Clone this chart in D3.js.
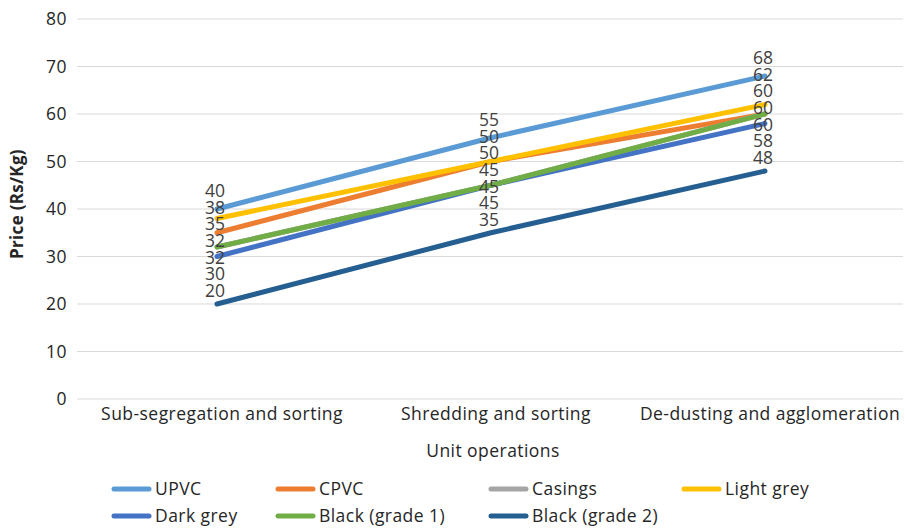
<!DOCTYPE html>
<html>
<head>
<meta charset="utf-8">
<script src="https://cdn.jsdelivr.net/npm/d3@7"></script>
<style>
  body { margin: 0; background: #fff; }
  text { font-family: "Open Sans", "Noto Sans", sans-serif; }
</style>
</head>
<body>
<svg id="chart" width="905" height="528"></svg>
<script>
// Unit operations along the x axis
const categories = ["Sub-segregation and sorting", "Shredding and sorting", "De-dusting and agglomeration"];

// Price (Rs/Kg) per plastic type at each stage
const upvc       = [40, 55, 68];
const cpvc       = [35, 50, 60];
const casings    = [32, 45, 60];
const lightGrey  = [38, 50, 62];
const darkGrey   = [30, 45, 58];
const black1     = [32, 45, 60];
const black2     = [20, 35, 48];

const seriesNames = ["UPVC", "CPVC", "Casings", "Light grey", "Dark grey", "Black (grade 1)", "Black (grade 2)"];
const seriesValues = [upvc, cpvc, casings, lightGrey, darkGrey, black1, black2];
const seriesColors = ["#5B9BD5", "#ED7D31", "#A5A5A5", "#FFC000", "#4472C4", "#70AD47", "#255E91"];

const yTicks = [0, 10, 20, 30, 40, 50, 60, 70, 80];

const series = seriesNames.map((name, i) => ({ name, values: seriesValues[i], color: seriesColors[i] }));

const FONT = 17.5;
const SPACING = "0.45px";
const INK = "#262626";

const svg = d3.select("#chart");

const x = d3.scaleBand().domain(categories).range([80, 902]);
const y = d3.scaleLinear().domain([0, 80]).range([399, 19]);
const cx = c => x(c) + x.bandwidth() / 2;

// Horizontal gridlines
svg.append("g")
  .selectAll("line")
  .data(yTicks)
  .join("line")
  .attr("x1", 77).attr("x2", 903)
  .attr("y1", d => y(d)).attr("y2", d => y(d))
  .attr("stroke", "#d9d9d9").attr("stroke-width", 1);

// Y axis labels
const yAxis = svg.append("g")
  .attr("transform", "translate(67,0)")
  .call(d3.axisLeft(y).tickValues(yTicks).tickSize(0).tickPadding(0));
yAxis.select(".domain").remove();
yAxis.selectAll("text")
  .attr("font-size", FONT).attr("fill", INK)
  .style("letter-spacing", SPACING)
  .style("font-family", "'Open Sans', 'Noto Sans', sans-serif");

// X axis labels
const xAxis = svg.append("g")
  .attr("transform", "translate(5,408)")
  .call(d3.axisBottom(x).tickSize(0).tickPadding(0));
xAxis.select(".domain").remove();
xAxis.selectAll("text")
  .attr("font-size", FONT).attr("fill", INK)
  .attr("dy", "0.71em")
  .style("letter-spacing", SPACING)
  .style("font-family", "'Open Sans', 'Noto Sans', sans-serif");

// Axis titles
svg.append("text")
  .attr("x", 493).attr("y", 457)
  .attr("text-anchor", "middle")
  .attr("font-size", FONT).attr("fill", INK)
  .style("letter-spacing", SPACING)
  .text("Unit operations");

svg.append("text")
  .attr("transform", "translate(23,204) rotate(-90)")
  .attr("text-anchor", "middle")
  .attr("font-size", 17).attr("font-weight", "bold").attr("fill", INK)
  .style("letter-spacing", "0.3px")
  .text("Price (Rs/Kg)");

// Series lines
const line = d3.line()
  .x((d, i) => cx(categories[i]))
  .y(d => y(d));

svg.append("g")
  .selectAll("path")
  .data(series)
  .join("path")
  .attr("d", d => line(d.values))
  .attr("fill", "none")
  .attr("stroke", d => d.color)
  .attr("stroke-width", 5)
  .attr("stroke-linecap", "round")
  .attr("stroke-linejoin", "round");

// Value labels: stacked per category, evenly spread from the top value down to the lowest
const labelLayer = svg.append("g");
categories.forEach((c, ci) => {
  const vals = series.map(s => s.values[ci]).sort((a, b) => b - a);
  const top = y(vals[0]) - 18;
  const bottom = y(vals[vals.length - 1]) - 13;
  const step = (bottom - top) / (vals.length - 1);
  labelLayer.selectAll(null)
    .data(vals)
    .join("text")
    .attr("x", cx(c) - 2)
    .attr("y", (d, i) => top + i * step)
    .attr("dy", "0.35em")
    .attr("text-anchor", "middle")
    .attr("font-size", FONT).attr("fill", "#404040")
    .text(d => d);
});

// Legend
const legendPos = [
  [112, 489], [276, 489], [489, 489], [682, 489],
  [112, 516], [276, 516], [489, 516]
];
const legend = svg.append("g")
  .selectAll("g")
  .data(series)
  .join("g")
  .attr("transform", (d, i) => `translate(${legendPos[i][0]},${legendPos[i][1]})`);
legend.append("line")
  .attr("x1", 2).attr("x2", 37)
  .attr("stroke", d => d.color).attr("stroke-width", 5)
  .attr("stroke-linecap", "round");
legend.append("text")
  .attr("x", 43).attr("dy", "0.35em")
  .attr("font-size", FONT).attr("fill", INK)
  .style("letter-spacing", SPACING)
  .text(d => d.name);
</script>
</body>
</html>
